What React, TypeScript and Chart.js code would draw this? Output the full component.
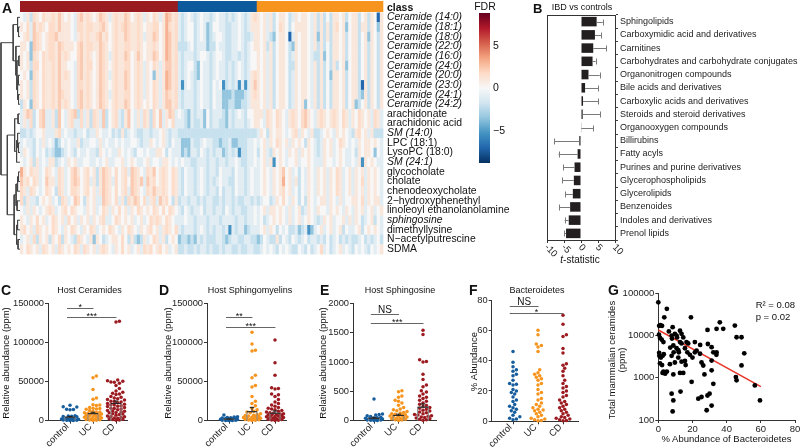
import React, { useEffect, useRef } from "react";
import { Chart, registerables } from "chart.js";
Chart.register(...registerables);

const FONT = '"Liberation Sans", Arial, Helvetica, sans-serif';
Chart.defaults.font.family = FONT;
Chart.defaults.color = "#222";
const W = 800, H = 448;

// ================= Panel A: heatmap =================
const rowLabels = ["Ceramide (14:0)", "Ceramide (18:1)", "Ceramide (18:0)", "Ceramide (22:0)", "Ceramide (16:0)", "Ceramide (24:0)", "Ceramide (20:0)", "Ceramide (23:0)", "Ceramide (24:1)", "Ceramide (24:2)", "arachidonate", "arachidonic acid", "SM (14:0)", "LPC (18:1)", "LysoPC (18:0)", "SM (24:1)", "glycocholate", "cholate", "chenodeoxycholate", "2\u2212hydroxyphenethyl", "linoleoyl ethanolanolamine", "sphingosine", "dimethyllysine", "N\u2212acetylputrescine", "SDMA"];
const italicRows = [0, 1, 2, 3, 4, 5, 6, 7, 8, 9, 12, 15, 21];
const classNames = ["CD", "control", "UC"];
const classCounts = [50, 25, 40];
const classColors = ["#9a1b1f", "#0c5a9b", "#f7941d"];
const heatLevel: Record<string, number> = { a: -7, b: -5.3, c: -3.5, d: -2, e: -1, f: 0, g: 1, h: 1.7, i: 2.3, j: 3.1 };
// one string per row: CD | control | UC, one letter per sample (column)
const heatRows = [
  "fegdhgfhgg hgigfgfehi ghgfgihgeg hggihfghge gfhgegjigh|edefedefee defeededef edegh|gfgegdfggf degfggfegd gdfdggfgdf ggdfgdgfag",
  "gfheighgfh hgigggfehh ghhgghigfg hghihgghgf gghhfgjhgh|edeffdefec dffeeddeef edegg|gfgegdfhgf dfggggfegd gdgdghfgcf ggdggdgfcg",
  "fgheihgfgh higgggfegh ghgghighfg hggihgghge ggihfgjigh|edeffdefec deffeddeef eddeg|gfgedcfggf aegfggfegc gdgdggfgdf ggdfgcgfdg",
  "ggfcihgfgh hgihgggfhi ghhggihgfg hgghhgghgf gghgfgjigh|dddefdeeec ddfeeddeef edefg|gfgdgdfggf dcgfggfegd gdfdggfgdf ggdfgdgfdg",
  "gfgchgfhgh hgighgffhi ghgfgihgeg hggihfgigf ggihfgjigh|edeeedeffe deffeddeed edeff|gfgegdfggf degfggfedd gcfdggfgdf ggdfgdgfdg",
  "gfgdhhfhgg hgiggffehi ghhfgihgfg hgghhfghge gfhgegiigh|edeffdcfee defeededef edeff|gfgegdfggf ddgfggfegd gdfdgdfgcf ggdfgdgfdg",
  "fgfchgfhgg hgighgfehi ghgfgihgeg hggihfghge gfcgegjigh|edefedcfee defeededef edegh|gfgegdfggf degfggfegd gdfcggfgdf ggdfgdgfdg",
  "gfgdhgfhgg hgigggfehh ghgfgihgfg hggihfghge gfhgegjigh|ebefedefee dfefbdedeb ebegi|gfgegdfggf degfggfegd gdfdggfgdf ggdagdgfdg",
  "gfgdhgfhgg hgihggfehi ghgfgihgeg hgghhfghge gfhgegihgh|edeeedefee dfeecccdcc cdegh|gfgegdfggf degfggfegd gdfdggfgdf ggdcgdgfdg",
  "dgfchgfhgg hgighgfehi ghgfgihgfg hggihfghgf gfhgegiigh|edeeedefee dfeeccddcc ddegg|gfgegdfggf degfgcfegd gdfdggfgdf gcdfgdgfdg",
  "egihdfhiee gdifeghidh egdhgeidfg hedgifegeh gdhfiegihe|fedcedeecf deeedcedef edffg|ggehgfhgfe ghgfhigfeg hgfghgfhge gfhgfgehge",
  "egehdfhiee gdifegheeh egdhgeidfg hedgifegeh gdhfiegfhe|eedceddecf deeddcedee edefg|gfehgfhgfe ghgfhigfeg hgfghgfhge gfhgfgehge",
  "ddedeffgee eghefeedee fdeegfeefd edgdefedde edeefgedee|dddddddddd dddddddddd ddddd|egfdgfggfe fghegfegdd efgfegfgfe dghfgegddd",
  "efeedfegef ecdfefeegd eeffegefee fefeeffede egfefgedfe|eccceddefe eddcddeccd ddeef|efgegfhgfg egfgfdgfed egfgefhgfe fegfggfgfe",
  "egfedfefde dccdefedfe efeedgfefe egfefedffe feeggfdfee|ecdceedfed edeecdedeb ddeef|dfgedgfgfe gfgegfgfed egfgefgfee fdgfggfcfe",
  "fefgdgefeg gdefegfgee ffeefefgee ffgefgfeef geffeggfef|efeeddeeed eedeedeefe ddeef|efgegbfgfe ffgeffgfee egffefgfee fegbgfgfee",
  "jgfhggefhg fehgefhigf ghfgdgihgf hfgheihgfe hgifghgfhg|edfeedefed eedfeeedfe edefe|efgfegfgif gefdfegfeg fgegfhgefg egfgegfgfe",
  "ighfhgefig gehgefhihf ghegdgihge hfghfihgie ighfghgfhg|edfeedefed edefeeddfe edefe|efgfegfgjf gegdfegfeg fgegfhgefg egfhegfgfe",
  "hgehgfefhg fdhgefhhgf ghfgegihgf hfgheihgfe hgigghgfhg|edfeedefed eedfdeedfe edefe|efgfegfghf gefdfegfeg fgegfhgefg egfgegfgfe",
  "hdgeedfgfg efdhgefihf dgfgeeihgf hegdhgihfh egheighfdg|deedeedede eddedeeded deede|deffdegfhf egfdfdgfef ggegfegeff ggfhegfgge",
  "fegegfefgh gefghfhgff egfgefhgeg fhfgegfhgf gfhgfhfhgf|edfedeefde edeedfedee ddeef|efgeggfgfe gefgdegfeg ffegfgfegf egfgefgefg",
  "gfegfhfgef hgfgehfgeg fgegfgheef hgfgfgefge fhghgfhgfe|eefeedeeed eeedeeeede edeef|efdefgfgfe gefgefgfed egfgeffgeg egfdefgdfe",
  "ghfgehgfgf hgfegfhgfe gfhgefgfhg fegfhgfegf ghfgeghgfh|edeeedefed edeedebede ecdee|efgegfdfef ddecdebcef gefgefgdfe efgdfgfgfe",
  "efgehdgfgd gfhdgfedhg fegcgfdefg gfhfdgdcdg efhgegdfgf|cddcdceded ddeedcdeed deedd|cdfeddgdfe dfedefdeed edfdefdede ddefdedefd",
  "gfhgfgehgf gehgfgfhge hgfgeghgfe gfhfgefgeh ghfghfgefg|ddeddedeed eddedeedde ddeed|defefedfef eddfedfdef hefdefgefe dfefedfefg",
];
// dendrogram merges: [childA, childB, height]; child >= 0 is a row, negative = -(merge index + 1)
const dendro: [number, number, number][] = [
  [1, 2, 1.5], [0, -1, 2.5], [4, 5, 1.2], [6, 7, 1.8], [8, 9, 1.5], [-4, -5, 2.5], [-3, -6, 3.2], [3, -7, 4.2], [-2, -8, 7],
  [10, 11, 2], [13, 14, 1.5], [12, -11, 2.5], [-12, 15, 3.5], [-10, -13, 5.5],
  [16, 17, 1.5], [-15, 18, 2.5], [19, 20, 3], [-16, -17, 4], [21, 22, 2.5], [23, 24, 2], [-19, -20, 3.5], [-18, -21, 6],
  [-14, -22, 13], [-9, -23, 19.5],
];
const fdrRange = [-8.8, 8.8];
const fdrTicks = [-5, 0, 5];

// ================= Panel B =================
const bCats = ["Sphingolipids", "Carboxymidic acid and derivatives", "Carnitines", "Carbohydrates and carbohydrate conjugates", "Organonitrogen compounds", "Bile acids and derivatives", "Carboxylic acids and derivatives", "Steroids and steroid derivatives", "Organooxygen compounds", "Billirubins", "Fatty acyls", "Purines and purine derivatives", "Glycerophospholipids", "Glycerolipids", "Benzenoides", "Indoles and derivatives", "Prenol lipids"];
const bT = [4.6, 4.1, 3.6, 3.4, 2.2, 1.2, 0.6, 0.5, 0.1, -0.5, -1.0, -1.9, -2.1, -2.4, -3.2, -3.6, -4.4];
const bErr = [6.4, 5.9, 7.4, 4.3, 5.5, 5.0, 5.0, 5.7, 3.6, -7.9, -6.6, -5.2, -5.6, -4.6, -6.4, -4.8, -5.0];
const bTicks = [-10, -5, 0, 5, 10];

// ================= Panels C-F =================
const catNames = ["control", "UC", "CD"];
const groupColors = ["#165d9d", "#f7941d", "#9c1b21"];

const ctrlC = [19600, 17800, 17500, 14500, 14200, 14000, 6200, 6000, 5800, 5500, 5200, 3000, 2800, 2500, 2200, 2000, 1800, 1500, 1300, 1100, 900, 700, 500, 300, 200];
const ucC = [57000, 55000, 40000, 29000, 27500, 20500, 20000, 19500, 17000, 16000, 15500, 15000, 14500, 13000, 12000, 11000, 10500, 10000, 9500, 9000, 8500, 8000, 7500, 7000, 6500, 6000, 5500, 5000, 4500, 4000, 3500, 3000, 2500, 2000, 1600, 1200, 900, 600, 400];
const cdC = [127000, 126000, 52000, 51000, 50500, 49500, 49000, 48000, 45000, 41000, 38000, 36500, 35000, 34000, 33500, 31000, 30000, 29000, 28000, 27000, 26500, 25000, 24500, 24000, 23000, 22000, 21000, 20500, 20000, 19000, 18500, 18000, 17000, 16000, 15500, 15000, 14000, 13000, 12500, 12000, 11000, 10500, 10000, 9000, 8500, 8000, 7000, 6000, 5500, 5000, 4000, 3500, 3000, 2500, 2000, 1500, 1000, 600];
const meanC = [4500, 9000, 22000];
const semC = [900, 1800, 3200];
const sigC: [number, number, number, string][] = [[0, 1, 143700, "*"], [0, 2, 132600, "***"]];

const ctrlD = [7200, 5200, 4600, 4200, 3800, 3400, 3000, 2700, 2400, 2100, 1900, 1600, 1400, 1200, 1000, 800, 650, 500, 350, 200, 100];
const ucD = [113000, 98000, 90000, 89000, 58000, 55000, 45000, 43000, 31000, 25000, 22000, 19000, 16000, 14000, 12000, 11000, 10000, 9000, 8000, 7000, 6500, 6000, 5500, 5000, 4500, 4000, 3500, 3000, 2500, 2000, 1700, 1400, 1100, 800, 500, 300];
const cdD = [103000, 74000, 58000, 42000, 41000, 40500, 34000, 33000, 31000, 27000, 24000, 22000, 20000, 18500, 17000, 16000, 15000, 14000, 13000, 12000, 11000, 10000, 9500, 9000, 8500, 8000, 7500, 7000, 6500, 6000, 5500, 5000, 4500, 4000, 3500, 3000, 2500, 2000, 1500, 1000, 700, 400];
const meanD = [2000, 11500, 9500];
const semD = [400, 5500, 3000];
const sigD: [number, number, number, string][] = [[0, 1, 132600, "**"], [0, 2, 120000, "***"]];

const ctrlE = [370, 115, 105, 95, 85, 70, 60, 50, 45, 40, 35, 30, 25, 20, 15, 12, 10, 8, 5, 3];
const ucE = [510, 495, 420, 400, 350, 330, 300, 265, 225, 200, 185, 170, 155, 140, 130, 120, 110, 100, 92, 85, 78, 70, 62, 55, 48, 40, 32, 25, 18, 10, 5];
const cdE = [1540, 1470, 1040, 1010, 1000, 790, 700, 610, 580, 510, 490, 455, 420, 400, 380, 350, 330, 300, 280, 260, 240, 225, 210, 195, 180, 165, 150, 135, 120, 105, 95, 85, 75, 65, 55, 45, 35, 25, 15, 8];
const meanE = [40, 90, 230];
const semE = [18, 22, 55];
const sigE: [number, number, number, string][] = [[0, 1, 1818, "NS"], [0, 2, 1659, "***"]];

const ctrlF = [46, 39, 36, 34, 33, 31, 30, 27, 25, 24.5, 24, 21, 20, 19, 18, 16, 14, 13, 11, 10, 9, 8, 7, 6, 4, 3, 2, 1.5, 1];
const ucF = [60, 57, 51, 50, 49, 46, 34, 32, 31, 30, 29, 28, 27, 25, 24, 21, 19, 18, 15, 14, 12, 11, 10, 9, 8, 7.5, 7, 6, 5, 4, 3, 2, 1.5, 1, 0.5, 0.3];
const cdF = [70, 64, 57, 56, 48, 45, 38, 37, 35, 33, 30, 27, 25, 23, 22, 20, 19, 17, 16, 14, 13, 12, 11, 10, 9, 8, 7, 6, 5, 4, 3, 2.5, 2, 1.5, 1, 0.5, 0.3];
const sigF: [number, number, number, string][] = [[0, 1, 76.1, "NS"], [0, 2, 71.3, "*"]];

// ================= Panel G =================
const gX = [0, 0.5, 1.2, 2.2, 5, 3.5, 0.4, 1, 2, 3, 0.5, 0.6, 2.5, 1.5, 3.2, 1, 2.2, 3, 5, 4, 2.5, 8.4, 6.2, 7.8, 9.7, 10.7, 8, 11, 8.8, 10.7, 11.7, 9, 7, 12, 7.8, 9.7, 6.8, 8.8, 7.8, 8.8, 8.4, 13, 12.7, 13.6, 14.6, 12.7, 13.6, 11.7, 13.6, 15.6, 14.6, 12.7, 16.5, 17.5, 15.6, 17, 18.5, 16, 19.1, 19.5, 21.4, 21.4, 22.4, 24.4, 25.3, 26.3, 28.8, 29, 24.5, 31.2, 32.2, 34.1, 34, 31.2, 31.2, 32.2, 28.8, 28.3, 31.2, 23.4, 25.3, 30, 34.1, 36, 38, 44.8, 45.8, 48.7, 50.3, 48.7, 45.4, 45.8, 56.5, 59.5, 27, 20];
const gY = [61000, 17000, 17500, 17000, 43000, 27000, 10500, 8800, 8000, 7000, 3900, 3300, 3300, 3000, 3600, 2200, 2000, 1400, 1400, 1250, 1300, 15800, 12500, 10000, 11000, 10000, 8500, 9000, 5800, 5000, 4500, 4000, 5200, 4000, 3300, 2300, 2100, 1200, 420, 290, 160, 470, 13000, 11000, 9000, 7000, 6500, 3000, 2400, 2500, 1300, 1300, 7000, 6500, 5000, 4000, 3500, 2000, 27000, 800, 7000, 4000, 4400, 3700, 2300, 1950, 13600, 6300, 6000, 5300, 4000, 4000, 3500, 2550, 1500, 720, 380, 170, 220, 320, 350, 420, 14400, 20600, 14400, 17200, 9100, 9100, 3800, 1960, 1040, 870, 660, 290, 1200, 3000];
const fitX = [0, 60];
const fitY = [13500, 620];
const gYTicks = [100, 1000, 10000, 100000];

// ================= helpers =================
const RDBU = ["#67001f", "#b2182b", "#d6604d", "#f4a582", "#fddbc7", "#f7f7f7", "#d1e5f0", "#92c5de", "#4393c3", "#2166ac", "#053061"];
const RGB = RDBU.map((h) => [1, 3, 5].map((i) => parseInt(h.slice(i, i + 2), 16)));
function fdrColor(v: number) {
  const t = Math.min(1, Math.max(0, (fdrRange[1] - v) / (fdrRange[1] - fdrRange[0]))) * 10;
  const i = Math.min(9, Math.floor(t));
  const f = t - i;
  const a = RGB[i], b = RGB[i + 1];
  return `rgb(${a.map((c, k) => Math.round(c + (b[k] - c) * f)).join(",")})`;
}
// layout: chart area (l,t,r,b) in page px; axis boxes of fixed size around it
type Box = { left?: number; right?: number; bottom?: number };
const pad = (l: number, t: number, r: number, b: number, bx: Box = {}) => ({
  left: l - (bx.left || 0), top: t, right: W - r - (bx.right || 0), bottom: H - b - (bx.bottom || 0),
});
const fitV = (w: number) => (s: any) => { s.width = w; s.paddingTop = 0; s.paddingBottom = 0; s.paddingLeft = 0; s.paddingRight = 0; };
const fitH = (h: number) => (s: any) => { s.height = h; s.paddingTop = 0; s.paddingBottom = 0; s.paddingLeft = 0; s.paddingRight = 0; };
const base = () => ({
  animation: false, responsive: false, devicePixelRatio: 1, events: [],
  plugins: { legend: { display: false }, tooltip: { enabled: false } },
});

function swarm(vals: number[], cat: number, pxY: number, pxCat: number, d: number, maxHalf: number) {
  const sorted = [...vals].sort((a, b) => a - b);
  const placed: { px: number; py: number }[] = [];
  const pts: { x: number; y: number }[] = [];
  const step = d / 2;
  const nMax = Math.floor(maxHalf / step);
  for (const v of sorted) {
    const py = v * pxY;
    let chosen = 0, best = -1;
    for (let k = 0; k <= 2 * nMax; k++) {
      const off = k === 0 ? 0 : (k % 2 ? 1 : -1) * Math.ceil(k / 2) * step;
      let minD = Infinity;
      for (const p of placed) { const dd = Math.hypot(p.px - off, p.py - py); if (dd < minD) minD = dd; }
      if (minD >= d) { chosen = off; break; }
      if (minD > best) { best = minD; chosen = off; }
    }
    placed.push({ px: chosen, py });
    pts.push({ x: cat + chosen / pxCat, y: v });
  }
  return pts;
}

// ================= chart configs =================
function heatmapConfig() {
  const grid = heatRows.map((s) => s.replace(/[^a-j]/g, "").split("").map((ch) => heatLevel[ch]));
  const nCols = classCounts.reduce((a, b) => a + b, 0);
  return {
    type: "scatter",
    data: { datasets: [{ data: [] }] },
    options: {
      ...base(),
      layout: { padding: pad(20, 12.5, 383, 254, { right: 160 }) },
      scales: {
        x: { type: "linear", min: 0, max: nCols, display: false },
        y: {
          type: "linear", position: "right", min: -0.5, max: rowLabels.length - 0.5, reverse: true,
          afterBuildTicks: (s: any) => { s.ticks = rowLabels.map((_, i) => ({ value: i })); },
          ticks: {
            autoSkip: false, padding: 4, color: "#111",
            callback: (v: any) => rowLabels[v] ?? "",
            font: (c: any) => ({ family: FONT, size: 10.4, style: italicRows.includes(c.index) ? "italic" : "normal" }),
          },
          grid: { display: false, drawTicks: false }, border: { display: false }, afterFit: fitV(160),
        },
      },
    },
    plugins: [{
      id: "heat",
      beforeDatasetsDraw(chart: any) {
        const { ctx, chartArea: a, scales: { x, y } } = chart;
        grid.forEach((row, r) => {
          const y0 = y.getPixelForValue(r - 0.5), y1 = y.getPixelForValue(r + 0.5);
          row.forEach((v, c) => {
            const x0 = x.getPixelForValue(c), x1 = x.getPixelForValue(c + 1);
            ctx.fillStyle = fdrColor(v);
            ctx.fillRect(x0, Math.min(y0, y1), x1 - x0 + 0.4, Math.abs(y1 - y0) + 0.4);
          });
        });
        let c0 = 0;
        classCounts.forEach((n, i) => {
          const x0 = x.getPixelForValue(c0), x1 = x.getPixelForValue(c0 + n);
          ctx.fillStyle = classColors[i];
          ctx.fillRect(x0, a.top - 11.5, x1 - x0 + 0.3, 11);
          c0 += n;
        });
      },
    }],
  };
}

function dendroConfig() {
  const nodes: { y: number; h: number }[] = [];
  const pos = (k: number) => (k >= 0 ? { y: k, h: 0 } : nodes[-k - 1]);
  const datasets = dendro.map(([a, b, h]) => {
    const A = pos(a), B = pos(b);
    nodes.push({ y: (A.y + B.y) / 2, h });
    return {
      data: [{ x: A.h, y: A.y }, { x: h, y: A.y }, { x: h, y: B.y }, { x: B.h, y: B.y }],
      showLine: true, borderColor: "#444", borderWidth: 1, pointRadius: 0, clip: false,
    };
  });
  return {
    type: "scatter",
    data: { datasets },
    options: {
      ...base(),
      layout: { padding: pad(0.5, 12.5, 20, 254) },
      scales: {
        x: { type: "linear", min: 0, max: 20, reverse: true, display: false },
        y: { type: "linear", min: -0.5, max: rowLabels.length - 0.5, reverse: true, display: false },
      },
    },
  };
}

function colorbarConfig() {
  return {
    type: "scatter",
    data: { datasets: [{ data: [] }] },
    options: {
      ...base(),
      layout: { padding: pad(479, 13.3, 490, 163, { right: 30 }) },
      scales: {
        x: { type: "linear", min: 0, max: 1, display: false },
        y: {
          type: "linear", position: "right", min: fdrRange[0], max: fdrRange[1],
          afterBuildTicks: (s: any) => { s.ticks = fdrTicks.map((v) => ({ value: v })); },
          ticks: { padding: 3, color: "#111", font: { size: 10.5 }, callback: (v: any) => (v < 0 ? "\u2212" + Math.abs(v) : String(v)) },
          grid: { display: false, drawTicks: false }, border: { display: false }, afterFit: fitV(30),
        },
      },
    },
    plugins: [{
      id: "bar",
      beforeDatasetsDraw(chart: any) {
        const { ctx, chartArea: a, scales: { y } } = chart;
        for (let py = Math.floor(a.top); py < a.bottom; py++) {
          ctx.fillStyle = fdrColor(y.getValueForPixel(py + 0.5));
          ctx.fillRect(a.left, py, a.right - a.left, 1);
        }
      },
    }],
  };
}

function bConfig() {
  return {
    type: "bar",
    data: { labels: bCats, datasets: [{ data: bT, backgroundColor: "#231f20", barPercentage: 0.72, categoryPercentage: 1 }] },
    options: {
      ...base(),
      indexAxis: "y",
      layout: { padding: pad(547, 15, 615, 240, { right: 184, bottom: 20 }) },
      scales: {
        x: {
          type: "linear", min: -10, max: 10,
          afterBuildTicks: (s: any) => { s.ticks = bTicks.map((v) => ({ value: v })); },
          ticks: { display: false },
          grid: { display: true, drawOnChartArea: false, drawTicks: true, tickLength: 3, color: "#333" },
          border: { display: true, color: "#333" }, afterFit: fitH(20),
        },
        y: {
          position: "right",
          ticks: { autoSkip: false, padding: 2, color: "#222", font: { size: 9 } },
          grid: { display: true, drawOnChartArea: false, drawTicks: true, tickLength: 3, color: "#444" },
          border: { display: true, color: "#333" }, afterFit: fitV(184),
        },
      },
    },
    plugins: [{
      id: "berr",
      afterDatasetsDraw(chart: any) {
        const { ctx, chartArea: a, scales: { x, y } } = chart;
        ctx.save();
        ctx.strokeStyle = "#7a7a7a";
        ctx.lineWidth = 1;
        bT.forEach((v, i) => {
          const py = Math.round(y.getPixelForValue(i)) + 0.5;
          const x0 = x.getPixelForValue(v), x1 = x.getPixelForValue(bErr[i]);
          ctx.beginPath();
          ctx.moveTo(x0, py); ctx.lineTo(x1, py);
          ctx.moveTo(Math.round(x1) + 0.5, py - 3); ctx.lineTo(Math.round(x1) + 0.5, py + 3);
          ctx.stroke();
        });
        ctx.strokeStyle = "#333";
        ctx.strokeRect(Math.round(a.left) + 0.5, Math.round(a.top) + 0.5, Math.round(a.right - a.left), Math.round(a.bottom - a.top));
        ctx.fillStyle = "#222";
        ctx.font = `9.5px ${FONT}`;
        ctx.textAlign = "left";
        ctx.textBaseline = "middle";
        bTicks.forEach((v) => {
          const px = x.getPixelForValue(v);
          ctx.save();
          ctx.translate(px - 1, a.bottom + 6);
          ctx.rotate(Math.PI / 4);
          ctx.fillText(String(v), 0, 0);
          ctx.restore();
        });
        ctx.restore();
      },
    }],
  };
}

type DotPanel = {
  l: number; r: number; t: number; b: number; xmin: number; xmax: number; ymax: number; step: number;
  groups: number[][]; means: number[] | null; sems: number[] | null; sigs: [number, number, number, string][];
  yTitle: string; yTitleX: number;
};

const dotPanels: DotPanel[] = [
  { l: 48, r: 127, t: 303.3, b: 420.7, xmin: -0.957, xmax: 2.478, ymax: 150000, step: 50000, groups: [ctrlC, ucC, cdC], means: meanC, sems: semC, sigs: sigC, yTitle: "Relative abundance (ppm)", yTitleX: 6 },
  { l: 207, r: 286, t: 303.3, b: 420.7, xmin: -0.957, xmax: 2.478, ymax: 150000, step: 50000, groups: [ctrlD, ucD, cdD], means: meanD, sems: semD, sigs: sigD, yTitle: "Relative abundance (ppm)", yTitleX: 168.5 },
  { l: 353, r: 436, t: 303.3, b: 420.7, xmin: -0.857, xmax: 2.53, ymax: 2000, step: 500, groups: [ctrlE, ucE, cdE], means: meanE, sems: semE, sigs: sigE, yTitle: "Relative abundance (ppm)", yTitleX: 323 },
  { l: 491.7, r: 578, t: 300, b: 421.3, xmin: -0.852, xmax: 2.6, ymax: 80, step: 20, groups: [ctrlF, ucF, cdF], means: null, sems: null, sigs: sigF, yTitle: "% Abundance", yTitleX: 474 },
];

function dotConfig(p: DotPanel) {
  const pxY = (p.b - p.t) / p.ymax;
  const pxCat = (p.r - p.l) / (p.xmax - p.xmin);
  const datasets = p.groups.map((g, i) => ({
    data: swarm(g, i, pxY, pxCat, 3.4, 10),
    backgroundColor: groupColors[i], borderWidth: 0, pointRadius: 1.75, clip: false,
  }));
  return {
    type: "scatter",
    data: { datasets },
    options: {
      ...base(),
      layout: { padding: pad(p.l, p.t, p.r, p.b, { left: 44, bottom: 26 }) },
      scales: {
        x: {
          type: "linear", min: p.xmin, max: p.xmax,
          afterBuildTicks: (s: any) => { s.ticks = catNames.map((_, i) => ({ value: i })); },
          ticks: { display: false },
          grid: { display: true, drawOnChartArea: false, drawTicks: true, tickLength: 3, color: "#333" },
          border: { display: true, color: "#333" }, afterFit: fitH(26),
        },
        y: {
          type: "linear", min: 0, max: p.ymax,
          ticks: { stepSize: p.step, padding: 1, color: "#222", font: { size: 9.3 }, callback: (v: any) => String(v) },
          grid: { display: true, drawOnChartArea: false, drawTicks: true, tickLength: 3, color: "#333" },
          border: { display: true, color: "#333" }, afterFit: fitV(44),
        },
      },
    },
    plugins: [{
      id: "dotExtras",
      afterDatasetsDraw(chart: any) {
        const { ctx, chartArea: area, scales: { x, y } } = chart;
        ctx.save();
        ctx.lineWidth = 1;
        if (p.means && p.sems) {
          p.means.forEach((m, i) => {
            const x0 = x.getPixelForValue(i - 0.22), x1 = x.getPixelForValue(i + 0.22);
            const y0 = y.getPixelForValue(0), y1 = y.getPixelForValue(m);
            const ys = y.getPixelForValue(m + p.sems![i]);
            ctx.strokeStyle = "#8a8a8a";
            ctx.beginPath();
            ctx.moveTo(x0, y0); ctx.lineTo(x0, y1); ctx.lineTo(x1, y1); ctx.lineTo(x1, y0);
            ctx.stroke();
            ctx.strokeStyle = "#222";
            const cx = x.getPixelForValue(i);
            ctx.beginPath();
            ctx.moveTo(x0, y1); ctx.lineTo(x1, y1);
            ctx.moveTo(cx, y1); ctx.lineTo(cx, ys);
            ctx.moveTo(x.getPixelForValue(i - 0.1), ys); ctx.lineTo(x.getPixelForValue(i + 0.1), ys);
            ctx.stroke();
          });
        }
        p.sigs.forEach(([a, b, v, t]) => {
          const xa = x.getPixelForValue(a - 0.13), xb = x.getPixelForValue(b + 0.02);
          const py = Math.round(y.getPixelForValue(v)) + 0.5;
          ctx.strokeStyle = "#666";
          ctx.beginPath(); ctx.moveTo(xa, py); ctx.lineTo(xb, py); ctx.stroke();
          ctx.fillStyle = "#111";
          ctx.textAlign = "center";
          ctx.textBaseline = "alphabetic";
          ctx.font = `${t === "NS" ? 10 : 9}px ${FONT}`;
          ctx.fillText(t, (xa + xb) / 2, t === "NS" ? py - 1.5 : py + 1.5);
        });
        // category labels, rotated 45 degrees and ending at the tick
        ctx.fillStyle = "#222";
        ctx.font = `9.5px ${FONT}`;
        ctx.textAlign = "right";
        ctx.textBaseline = "middle";
        catNames.forEach((name, i) => {
          const px = x.getPixelForValue(i);
          ctx.save();
          ctx.translate(px - 2.5, area.bottom + 4.5);
          ctx.rotate(-Math.PI / 4);
          ctx.fillText(name, 0, 0);
          ctx.restore();
        });
        // y-axis title
        ctx.fillStyle = "#111";
        ctx.font = `9.5px ${FONT}`;
        ctx.textAlign = "center";
        ctx.save();
        ctx.translate(p.yTitleX, (area.top + area.bottom) / 2 + 1);
        ctx.rotate(-Math.PI / 2);
        ctx.fillText(p.yTitle, 0, 0);
        ctx.restore();
        ctx.restore();
      },
    }],
  };
}

function gConfig() {
  return {
    type: "scatter",
    data: {
      datasets: [
        { data: gX.map((x, i) => ({ x, y: gY[i] })), backgroundColor: "#000", borderWidth: 0, pointRadius: 2.4, clip: false },
        { type: "line", data: fitX.map((x, i) => ({ x, y: fitY[i] })), borderColor: "#e8372b", borderWidth: 1.5, pointRadius: 0, fill: false },
      ],
    },
    options: {
      ...base(),
      layout: { padding: pad(658.3, 293.3, 795, 420, { left: 44, bottom: 26 }) },
      scales: {
        x: {
          type: "linear", min: 0, max: 80,
          ticks: { stepSize: 20, padding: 1, color: "#222", font: { size: 9.5 } },
          grid: { display: true, drawOnChartArea: false, drawTicks: true, tickLength: 3, color: "#333" },
          border: { display: true, color: "#333" }, afterFit: fitH(26),
        },
        y: {
          type: "logarithmic", min: 100, max: 100000,
          afterBuildTicks: (s: any) => { s.ticks = gYTicks.map((v) => ({ value: v })); },
          ticks: { padding: 1, color: "#222", font: { size: 9.5 }, callback: (v: any) => String(v) },
          grid: { display: true, drawOnChartArea: false, drawTicks: true, tickLength: 3, color: "#333" },
          border: { display: true, color: "#333" }, afterFit: fitV(44),
        },
      },
    },
  };
}

const makers = [heatmapConfig, dendroConfig, colorbarConfig, bConfig, ...dotPanels.map((p) => () => dotConfig(p)), gConfig];

function ChartLayer({ make }: { make: () => any }) {
  const ref = useRef<HTMLCanvasElement>(null);
  useEffect(() => {
    const chart = new Chart(ref.current as HTMLCanvasElement, make());
    return () => chart.destroy();
  }, [make]);
  return <canvas ref={ref} width={W} height={H} style={{ position: "absolute", left: 0, top: 0, width: W, height: H }} />;
}

function T({ x, y, size = 9, bold = false, italic = false, align = "center", rot = 0, children }: any) {
  const tx = align === "center" ? "-50%" : "0";
  return (
    <div style={{
      position: "absolute", left: x, top: y, fontSize: size, fontWeight: bold ? "bold" : "normal",
      fontStyle: italic ? "italic" : "normal", lineHeight: 1, whiteSpace: "nowrap", color: "#111",
      transform: `translate(${tx}, -50%)${rot ? ` rotate(${rot}deg)` : ""}`,
      transformOrigin: align === "center" ? "center" : "left center", fontFamily: FONT,
    }}>{children}</div>
  );
}

export default function App() {
  return (
    <div style={{ position: "fixed", left: 0, top: 0, width: W, height: H, background: "#fff", overflow: "hidden", fontFamily: FONT }}>
      {makers.map((mk, i) => <ChartLayer key={i} make={mk} />)}
      <T x={2} y={7.5} size={14} bold align="left">A</T>
      <T x={387} y={6.5} size={10.5} bold align="left">class</T>
      <T x={485} y={6} size={10.5}>FDR</T>
      <T x={533} y={7.5} size={13} bold align="left">B</T>
      <T x={582} y={7} size={9}>IBD vs controls</T>
      <T x={580} y={260} size={10}><i>t</i>-statistic</T>

      <T x={1} y={289.5} size={14} bold align="left">C</T>
      <T x={89.5} y={290} size={9}>Host Ceramides</T>

      <T x={159} y={289.5} size={14} bold align="left">D</T>
      <T x={250} y={290} size={9}>Host Sphingomyelins</T>

      <T x={320} y={289.5} size={14} bold align="left">E</T>
      <T x={400} y={290} size={9}>Host Sphingosine</T>

      <T x={469} y={289.5} size={14} bold align="left">F</T>
      <T x={537} y={290} size={9}>Bacteroidetes</T>

      <T x={608} y={290} size={14} bold align="left">G</T>
      <T x={611.7} y={360} size={9.5} rot={-90}>Total mammalian ceramides</T>
      <T x={622} y={360} size={9.5} rot={-90}>(ppm)</T>
      <T x={726.5} y={439} size={9.5}>% Abundance of Bacteroidetes</T>
      <T x={755.7} y={305} size={9.5} align="left">R² = 0.08</T>
      <T x={755.7} y={317.3} size={9.5} align="left">p = 0.02</T>
    </div>
  );
}
